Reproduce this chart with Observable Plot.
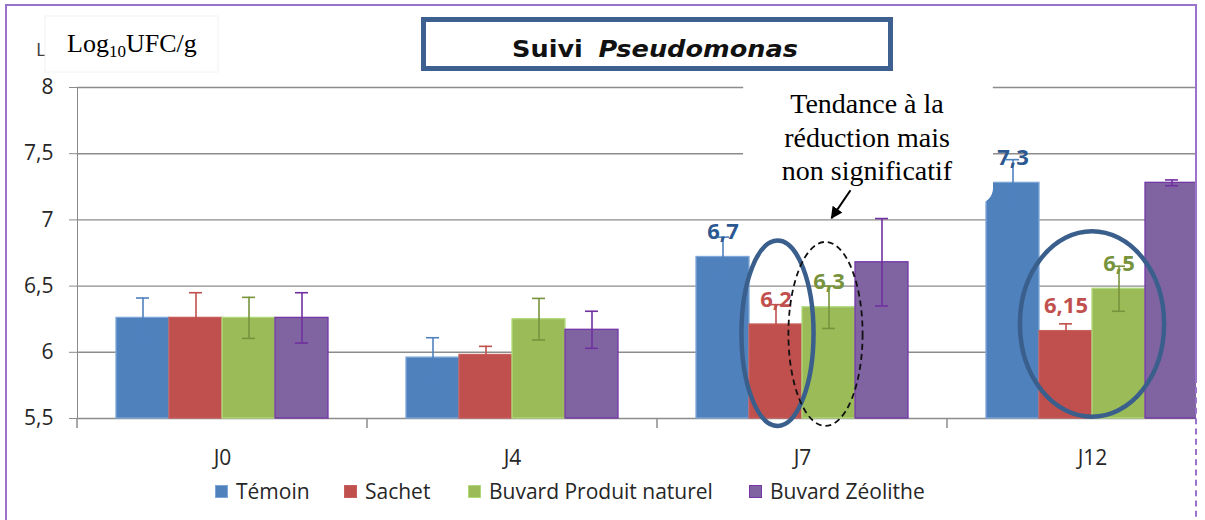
<!DOCTYPE html>
<html>
<head>
<meta charset="utf-8">
<script src="https://cdn.jsdelivr.net/npm/d3@7"></script>
<script src="https://cdn.jsdelivr.net/npm/@observablehq/plot@0.6"></script>
<style>
  html, body { margin: 0; padding: 0; background: #fff; width: 1205px; height: 520px; overflow: hidden; }
  #wrap { position: absolute; left: 0; top: 0; width: 1196px; height: 520px; overflow: hidden; }
  #chart { position: absolute; left: 0; top: 0; width: 1205px; }
  #chart svg { max-width: none !important; }
  #overlay { position: absolute; left: 0; top: 0; }
  #chart [aria-label*="axis"] text { fill: #262626; }
  .fr { position: absolute; border-color: #9a72c9; }
  #legend { position: absolute; left: 0; top: 480px; width: 1196px; height: 22px; font-family: "Open Sans", sans-serif; font-size: 21px; color: #262626; }
  .item { position: absolute; top: 0; display: flex; align-items: center; height: 22px; white-space: nowrap; }
  .sw { width: 13px; height: 13px; margin-right: 8px; box-sizing: border-box; border: 1px solid; }
</style>
</head>
<body>
<div id="wrap">
  <div id="chart"></div>
  <svg id="overlay" width="1205" height="520"></svg>
  <div id="legend"></div>
</div>
<div class="fr" style="left:5px;top:4px;width:1192px;height:0;border-top:2px solid #9a72c9;"></div>
<div class="fr" style="left:5px;top:4px;width:0;height:520px;border-left:2px solid #9a72c9;"></div>
<div class="fr" style="left:1195px;top:4px;width:0;height:373px;border-left:2px solid #9a72c9;"></div>
<div class="fr" style="left:1195px;top:377px;width:0;height:150px;border-left:2px dashed #9a72c9;"></div>
<script>
// ---------- data ----------
const days = ["J0", "J4", "J7", "J12"];
const series = ["Témoin", "Sachet", "Buvard Produit naturel", "Buvard Zéolithe"];
const temoin = [6.26, 5.96, 6.72, 7.28];
const sachet = [6.26, 5.98, 6.21, 6.16];
const buvardNaturel = [6.26, 6.25, 6.34, 6.48];
const buvardZeolithe = [6.26, 6.17, 6.68, 7.28];
const temoinErr = [0.15, 0.15, 0.15, 0.175];
const sachetErr = [0.19, 0.065, 0.15, 0.055];
const buvardNaturelErr = [0.155, 0.157, 0.16, 0.17];
const buvardZeolitheErr = [0.19, 0.14, 0.33, 0.022];
const temoinLabels = ["", "", "6,7", "7,3"];
const sachetLabels = ["", "", "6,2", "6,15"];
const buvardNaturelLabels = ["", "", "6,3", "6,5"];
const buvardZeolitheLabels = ["", "", "", ""];
const yTicks = [5.5, 6, 6.5, 7, 7.5, 8];
const title = ["Suivi", "Pseudomonas"];
const yLabel = ["Log", "10", "UFC/g"];
const note = ["Tendance à la", "réduction mais", "non significatif"];

// ---------- styles ----------
const fills = ["#4F81BD", "#C0504D", "#9BBB59", "#8064A2"];
const outlines = ["#7EA6D8", "#C95F5C", "#B2DA7A", "#7436A8"];
const errColors = ["#4F81BD", "#C0504D", "#77933C", "#7030A0"];
const labelColors = ["#2B5890", "#C0504D", "#77933C", "#7030A0"];

const values = [temoin, sachet, buvardNaturel, buvardZeolithe];
const errs = [temoinErr, sachetErr, buvardNaturelErr, buvardZeolitheErr];
const labels = [temoinLabels, sachetLabels, buvardNaturelLabels, buvardZeolitheLabels];

const rows = days.flatMap((day, i) => series.map((s, j) => ({
  day, series: s, k: j, value: values[j][i], err: errs[j][i], label: labels[j][i]
})));

const fmt = d => String(d).replace(".", ",");
const base = yTicks[0];

const plot = Plot.plot({
  width: 1205,
  height: 470,
  marginTop: 87,
  marginBottom: 52,
  marginLeft: 77,
  marginRight: 0,
  style: { fontFamily: "'Open Sans', sans-serif", fontSize: "21px", color: "#8a8a8a", background: "transparent", overflow: "visible", maxWidth: "none" },
  facet: { data: rows, x: "day" },
  fx: { domain: days, range: [77, 1237], padding: 0, axis: "bottom", label: null, tickSize: 0, tickPadding: 32 },
  x: { domain: series, axis: null, paddingInner: 0, paddingOuter: 0.735 },
  y: { domain: [5.5, 8], ticks: yTicks, tickFormat: fmt, tickSize: 8, tickPadding: 16, line: true, label: null },
  color: { type: "identity" },
  marks: [
    Plot.ruleY(yTicks.slice(1), { stroke: "#8c8c8c", strokeWidth: 1.4 }),
    Plot.ruleY([base], { stroke: "#8c8c8c", strokeWidth: 1.6 }),
    Plot.barY(rows, { x: "series", y1: () => base, y2: "value", fill: d => fills[d.k], stroke: d => outlines[d.k], strokeWidth: 1.3 }),
    Plot.ruleX(rows, { x: "series", y1: d => d.value - d.err, y2: d => d.value + d.err, stroke: d => errColors[d.k], strokeWidth: 1.6 }),
    Plot.tickY(rows, { x: "series", y: d => d.value + d.err, stroke: d => errColors[d.k], strokeWidth: 1.6, insetLeft: 20, insetRight: 20 }),
    Plot.tickY(rows, { x: "series", y: d => d.value - d.err, stroke: d => errColors[d.k], strokeWidth: 1.6, insetLeft: 20, insetRight: 20 }),
    Plot.text(rows, { filter: d => d.label, x: "series", y: "value", text: "label", dy: -25, fill: d => labelColors[d.k], fontWeight: "bold", fontSize: 22 })
  ]
});
document.getElementById("chart").appendChild(plot);

// ---------- scale helpers (from the plot's own scales) ----------
function bandOf(desc) {
  if (desc && typeof desc.apply === "function" && desc.bandwidth != null) return { f: v => desc.apply(v), bw: desc.bandwidth, r0: desc.range[0] };
  const s = d3.scaleBand(desc.domain, desc.range)
    .paddingInner(desc.paddingInner ?? desc.padding ?? 0)
    .paddingOuter(desc.paddingOuter ?? desc.padding ?? 0)
    .align(desc.align ?? 0.5);
  return { f: s, bw: s.bandwidth(), r0: desc.range[0] };
}
function linOf(desc) {
  if (desc && typeof desc.apply === "function") return v => desc.apply(v);
  return d3.scaleLinear(desc.domain, desc.range);
}
const FX = bandOf(plot.scale("fx"));
const X = bandOf(plot.scale("x"));
const Y = linOf(plot.scale("y"));
// absolute centre of a bar: facet start + offset of the series band inside the facet
const cx = (day, s) => FX.f(day) + (X.f(s) - X.r0) + X.bw / 2;

const svg = d3.select(plot);
// category boundary ticks under the axis
const bounds = days.map(d => FX.f(d)).concat([FX.f(days[days.length - 1]) + FX.bw]);
svg.append("g").selectAll("line").data(bounds).join("line")
  .attr("x1", d => d).attr("x2", d => d)
  .attr("y1", Y(base)).attr("y2", Y(base) + 10)
  .attr("stroke", "#8c8c8c").attr("stroke-width", 1.5);

// ellipse annotations
const ell = svg.append("g").attr("fill", "none");
function ellipse(x0, yTop, yBot, rx, stroke, width, dash) {
  const e = ell.append("ellipse")
    .attr("cx", x0).attr("cy", (Y(yTop) + Y(yBot)) / 2)
    .attr("rx", rx).attr("ry", (Y(yBot) - Y(yTop)) / 2)
    .attr("stroke", stroke).attr("stroke-width", width);
  if (dash) e.attr("stroke-dasharray", dash);
}
ellipse(cx("J7", series[1]) + 2, 6.84, 5.44, X.bw * 0.68, "#3A5F8C", 4.5);
ellipse(cx("J7", series[2]) - 3, 6.83, 5.44, X.bw * 0.7, "#111", 1.8, "6 4");
ellipse((cx("J12", series[1]) + cx("J12", series[2])) / 2, 6.91, 5.51, X.bw * 1.36, "#3A5F8C", 4.5);

// ---------- overlay: title, y label, note ----------
const ov = d3.select("#overlay");
ov.append("defs").append("marker")
  .attr("id", "ah").attr("viewBox", "0 0 10 10").attr("refX", 9).attr("refY", 5)
  .attr("markerWidth", 6).attr("markerHeight", 6).attr("orient", "auto")
  .append("path").attr("d", "M0,0L10,5L0,10z").attr("fill", "#000");

// title box
ov.append("rect").attr("x", 423.5).attr("y", 19.5).attr("width", 467).attr("height", 49)
  .attr("fill", "#fff").attr("stroke", "#3E6090").attr("stroke-width", 5);
const tt = ov.append("text").attr("x", 655).attr("y", 57).attr("text-anchor", "middle")
  .attr("font-family", "'DejaVu Sans', sans-serif").attr("font-size", 23).attr("font-weight", "bold")
  .attr("fill", "#111").attr("textLength", 286).attr("lengthAdjust", "spacingAndGlyphs");
tt.append("tspan").text(title[0]);
tt.append("tspan").attr("dx", 14).attr("font-style", "italic").text(title[1]);

// hidden axis label remnant + y label box
ov.append("text").attr("x", 36).attr("y", 56).attr("font-family", "'Open Sans', sans-serif")
  .attr("font-size", 19).attr("fill", "#404040").text(yLabel[0]);
ov.append("rect").attr("x", 45).attr("y", 16).attr("width", 173).attr("height", 56).attr("fill", "#fff")
  .attr("stroke", "#f2f2f2");
const yl = ov.append("text").attr("x", 67).attr("y", 52).attr("font-family", "'Liberation Serif', 'Times New Roman', serif")
  .attr("font-size", 26).attr("fill", "#000");
yl.append("tspan").text(yLabel[0]);
yl.append("tspan").attr("font-size", 17).attr("dy", 5).text(yLabel[1]);
yl.append("tspan").attr("dy", -5).text(yLabel[2]);

// note box
ov.append("rect").attr("x", 743).attr("y", 74).attr("width", 250).attr("height", 130).attr("rx", 16)
  .attr("fill", "#fff");
ov.append("g").attr("font-family", "'Liberation Serif', 'Times New Roman', serif").attr("font-size", 28)
  .attr("text-anchor", "middle").attr("fill", "#000")
  .selectAll("text").data(note).join("text")
  .attr("x", 867).attr("y", (d, i) => 113 + i * 33.5).text(d => d);
// arrow to dashed ellipse
const ax = cx("J7", series[2]);
ov.append("line").attr("x1", ax + 22).attr("y1", Y(7.22)).attr("x2", ax + 3).attr("y2", Y(7.01))
  .attr("stroke", "#000").attr("stroke-width", 2).attr("marker-end", "url(#ah)");

// ---------- legend ----------
const legendLeft = [215, 344, 468, 749];
const lg = d3.select("#legend");
series.forEach((s, j) => {
  const it = lg.append("div").attr("class", "item").style("left", legendLeft[j] + "px");
  it.append("div").attr("class", "sw").style("background", fills[j]).style("border-color", outlines[j]);
  it.append("span").text(s);
});
</script>
</body>
</html>
